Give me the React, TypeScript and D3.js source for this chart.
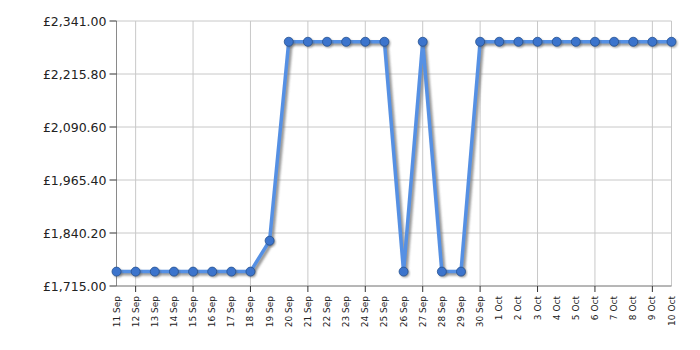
import React from "react";
import * as d3 from "d3";

const dates = [
  "11 Sep","12 Sep","13 Sep","14 Sep","15 Sep","16 Sep","17 Sep","18 Sep","19 Sep","20 Sep",
  "21 Sep","22 Sep","23 Sep","24 Sep","25 Sep","26 Sep","27 Sep","28 Sep","29 Sep","30 Sep",
  "1 Oct","2 Oct","3 Oct","4 Oct","5 Oct","6 Oct","7 Oct","8 Oct","9 Oct","10 Oct",
];
const prices = [
  1749, 1749, 1749, 1749, 1749, 1749, 1749, 1749, 1822, 2292,
  2292, 2292, 2292, 2292, 2292, 1749, 2292, 1749, 1749, 2292,
  2292, 2292, 2292, 2292, 2292, 2292, 2292, 2292, 2292, 2292,
];
const yTicks = [1715.0, 1840.2, 1965.4, 2090.6, 2215.8, 2341.0];

const W = 700, H = 350;
const left = 116.5, right = 671.5, top = 21, bottom = 286;

export default function App() {
  const x = d3.scaleLinear().domain([0, dates.length - 1]).range([left, right]);
  const y = d3.scaleLinear().domain([1715, 2341]).range([bottom, top]);
  const line = d3.line<number>().x((_, i) => x(i)).y((d) => y(d));
  const path = line(prices) || "";
  const gridIdx = dates.map((_, i) => i).filter((i) => i % 3 === 1);
  const fmt = (v: number) => "£" + d3.format(",.2f")(v);
  return (
    <svg width={W} height={H} style={{ position: "absolute", left: 0, top: 0 }} fontFamily="DejaVu Sans, Verdana, sans-serif">
      <defs>
        <filter id="sh" x="-10%" y="-10%" width="120%" height="120%">
          <feGaussianBlur stdDeviation="1.2" />
        </filter>
      </defs>
      <rect x={left} y={top} width={right - left} height={bottom - top} fill="#fff" />
      {yTicks.map((t) => (
        <line key={"hg" + t} x1={left} x2={right} y1={y(t)} y2={y(t)} stroke="#c8c8c8" strokeWidth={1} />
      ))}
      {gridIdx.map((i) => (
        <line key={"vg" + i} x1={x(i)} x2={x(i)} y1={top} y2={bottom} stroke="#c8c8c8" strokeWidth={1} />
      ))}
      <line x1={right} x2={right} y1={top} y2={bottom} stroke="#c8c8c8" />
      <line x1={left} x2={left} y1={top} y2={bottom} stroke="#8a8a8a" />
      <line x1={left} x2={right} y1={bottom} y2={bottom} stroke="#8a8a8a" />
      {yTicks.map((t) => (
        <g key={"yt" + t}>
          <line x1={left - 7} x2={left} y1={y(t)} y2={y(t)} stroke="#333" />
          <text x={left - 10} y={y(t)} dy="0.36em" textAnchor="end" fontSize={12.5} fill="#222">{fmt(t)}</text>
        </g>
      ))}
      {gridIdx.map((i) => (
        <line key={"xt" + i} x1={x(i)} x2={x(i)} y1={bottom} y2={bottom + 6} stroke="#333" />
      ))}
      {dates.map((d, i) => (
        <text key={"xl" + i} transform={`translate(${x(i) + 3},${bottom + 10}) rotate(-90)`} textAnchor="end" fontSize={9} fill="#222">{d}</text>
      ))}
      <path d={path} transform="translate(2,2)" fill="none" stroke="#777" strokeOpacity={0.75} strokeWidth={4} filter="url(#sh)" strokeLinejoin="round" />
      <path d={path} fill="none" stroke="#5590e4" strokeWidth={3.5} strokeLinejoin="round" />
      {prices.map((p, i) => (
        <circle key={"s" + i} cx={x(i) + 1.5} cy={y(p) + 1.5} r={4.5} fill="#555" opacity={0.5} filter="url(#sh)" />
      ))}
      {prices.map((p, i) => (
        <circle key={"c" + i} cx={x(i)} cy={y(p)} r={4.5} fill="#3c74cc" stroke="#24508f" strokeWidth={0.8} />
      ))}
    </svg>
  );
}
